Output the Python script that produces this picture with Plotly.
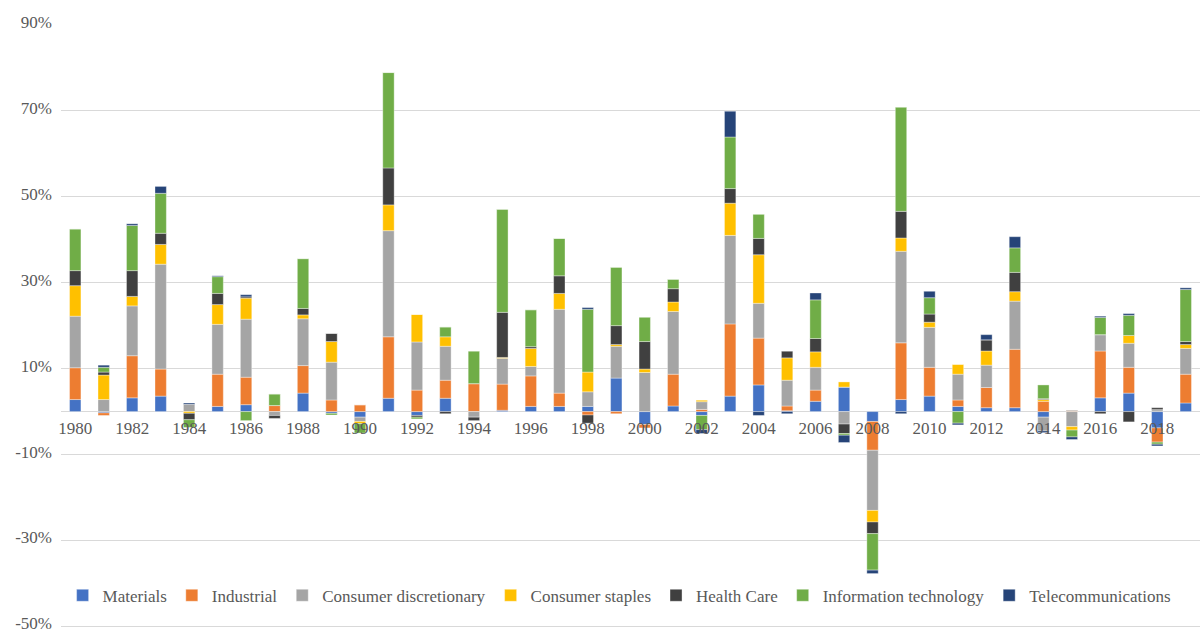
import plotly.graph_objects as go

# Annual return contribution by sector (percentage points), 1980-2019
years = list(range(1980, 2020))

materials = [2.8, -0.3, 3.2, 3.6, 0.0, 1.2, 1.6, 0.0, 4.3, -0.4,
             -1.3, 3.1, -0.9, 3.1, 0.0, 0.3, 1.2, 1.2, 1.2, 7.8,
             -3.0, 1.3, -0.9, 3.6, 6.2, 0.2, 2.4, 5.7, -2.3, 2.8,
             3.6, 1.2, 0.9, 0.9, -1.3, 0.0, 3.2, 4.3, -3.8, 2.0]
industrial = [7.4, -0.6, 9.8, 6.3, 0.0, 7.5, 6.4, 1.4, 6.4, 2.7,
              1.6, 14.3, 5.0, 4.2, 6.5, 6.1, 7.1, 3.1, -0.8, -0.5,
              -0.8, 7.4, 0.5, 16.8, 10.9, 1.1, 2.6, 0.0, -6.7, 13.2,
              6.7, 1.5, 4.7, 13.6, 2.4, 0.2, 10.9, 6.0, -3.3, 6.7]
consumer_disc = [12.0, 2.8, 11.6, 24.4, 1.7, 11.6, 13.5, -0.9, 10.9, 8.8,
                 -1.0, 24.7, 11.2, 7.9, -1.3, 6.0, 2.2, 19.5, 3.4, 7.4,
                 9.1, 14.6, 1.8, 20.6, 8.1, 6.0, 5.3, -2.9, -14.0, 21.3,
                 9.3, 6.0, 5.2, 11.2, -3.2, -3.5, 3.8, 5.6, 0.45, 6.0]
consumer_staples = [7.1, 5.7, 2.2, 4.6, -0.4, 4.6, 4.9, 0.0, 0.9, 4.8,
                    -0.5, 6.0, 6.4, 2.2, 0.0, 0.2, 4.2, 3.7, 4.6, 0.4,
                    0.8, 2.2, 0.4, 7.5, 11.3, 5.2, 3.6, 1.2, -2.7, 3.1,
                    1.2, 2.3, 3.3, 2.2, 0.4, -0.8, 0.0, 1.8, 0.0, 0.9]
health_care = [3.5, 0.7, 6.0, 2.6, -1.5, 2.6, 0.3, -0.7, 1.5, 1.9,
               0.0, 8.6, -0.4, -0.5, -0.8, 10.5, 0.4, 4.1, -1.9, 4.4,
               6.4, 3.1, 0.0, 3.4, 3.8, 1.6, 3.1, -2.2, -2.7, 6.2,
               1.9, 0.0, 2.6, 4.5, 0.2, 0.1, -0.5, -2.4, 0.45, 0.7]
info_tech = [9.7, 1.1, 10.5, 9.3, -1.8, 3.9, -2.1, 2.7, 11.6, -0.4,
             -2.2, 22.2, -0.4, 2.3, 7.6, 24.0, 8.6, 8.7, 14.6, 13.6,
             5.7, 2.2, -3.3, 12.0, 5.6, 0.0, 9.0, -0.4, -8.5, 24.2,
             3.8, -2.7, 0.0, 5.7, 3.2, -1.6, 4.0, 4.7, -0.5, 12.1]
telecom = [0.0, 0.5, 0.4, 1.6, 0.3, 0.2, 0.5, 0.0, 0.0, 0.0,
           0.0, 0.0, 0.0, 0.0, 0.0, 0.0, 0.0, 0.0, 0.4, 0.0,
           0.0, 0.0, -0.9, 6.0, -0.9, -0.5, 1.6, -1.7, -0.8, -0.5,
           1.5, -0.4, 1.2, 2.6, -0.4, -0.6, 0.3, 0.4, -0.4, 0.4]

sectors = ["Materials", "Industrial", "Consumer discretionary", "Consumer staples",
           "Health Care", "Information technology", "Telecommunications"]
series = [materials, industrial, consumer_disc, consumer_staples,
          health_care, info_tech, telecom]
colors = ["#4472C4", "#ED7D31", "#A5A5A5", "#FFC000",
          "#404040", "#70AD47", "#264478"]

y_ticks = [-50, -30, -10, 10, 30, 50, 70, 90]
y_ticktext = [f"{v}%" for v in y_ticks]
x_ticks = years[::2]

FONT = "Liberation Serif, DejaVu Serif, serif"
TEXT_COLOR = "#595959"
GRID = "#D9D9D9"

fig = go.Figure()
for name, vals, col in zip(sectors, series, colors):
    fig.add_trace(go.Bar(
        x=years, y=vals, name=name,
        marker=dict(color=col, line=dict(color="rgba(255,255,255,0.6)", width=0.6)),
    ))

# padding below -50% so the bottom gridline and its label stay visible
y_min, y_max = -50.6, 90.2
fig.update_layout(
    width=1200, height=632,
    barmode="relative", bargap=0.6,
    plot_bgcolor="white", paper_bgcolor="white",
    margin=dict(l=61, r=0, t=24, b=3, autoexpand=False),
    font=dict(family=FONT, size=17, color=TEXT_COLOR),
    showlegend=True,
    legend=dict(
        orientation="h", x=0.49, xanchor="center", y=0.055, yanchor="middle",
        font=dict(family=FONT, size=17, color=TEXT_COLOR),
        itemwidth=30, tracegroupgap=0, bgcolor="rgba(0,0,0,0)",
    ),
    xaxis=dict(
        range=[1979.5, 2019.5],
        tickvals=x_ticks, ticktext=[str(v) for v in x_ticks],
        showgrid=False, showline=False, zeroline=False, ticks="",
        anchor="free", position=(0 - y_min) / (y_max - y_min),
        ticklabelstandoff=4, automargin=False,
        tickfont=dict(family=FONT, size=17, color=TEXT_COLOR),
    ),
    yaxis=dict(
        range=[y_min, y_max],
        tickvals=y_ticks, ticktext=y_ticktext,
        showgrid=True, gridcolor=GRID, gridwidth=1,
        zeroline=True, zerolinecolor=GRID, zerolinewidth=1,
        showline=False, ticks="", automargin=False,
        ticklabelstandoff=8, ticklabeloverflow="allow",
        ticklabelshift=-3,
        tickfont=dict(family=FONT, size=17, color=TEXT_COLOR),
    ),
)

fig.write_html("out.html")
